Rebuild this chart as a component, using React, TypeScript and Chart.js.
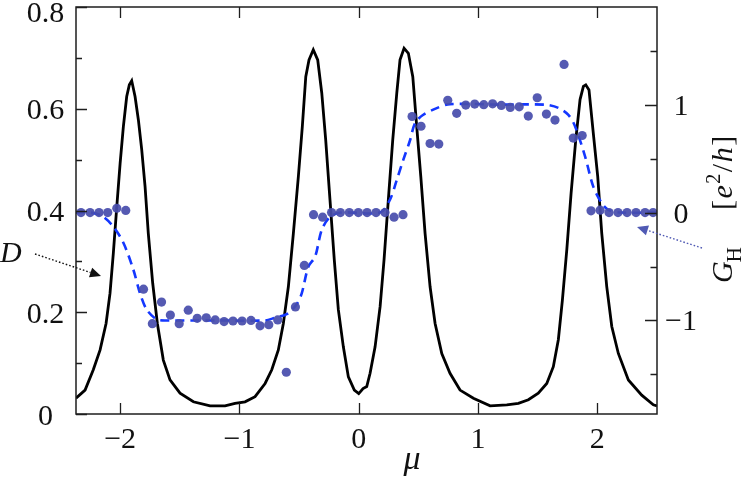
import React, { useEffect, useRef } from "react";
import Chart from "chart.js/auto";

// ---- Data ----
// D (black solid curve), left axis
const D_X = [-2.370,-2.294,-2.225,-2.168,-2.118,-2.085,-2.057,-2.028,-2.000,-1.973,
  -1.945,-1.923,-1.903,-1.875,-1.847,-1.819,-1.791,-1.764,-1.727,-1.688,
  -1.638,-1.582,-1.498,-1.386,-1.246,-1.121,-1.037,-0.953,-0.869,-0.785,
  -0.729,-0.674,-0.632,-0.590,-0.548,-0.506,-0.473,-0.444,-0.417,-0.381,
  -0.344,-0.310,-0.277,-0.241,-0.205,-0.171,-0.129,-0.087,-0.037,0.000,
  0.036,0.067,0.095,0.137,0.179,0.212,0.248,0.285,0.319,0.346,
  0.380,0.416,0.453,0.486,0.520,0.556,0.598,0.640,0.696,0.765,
  0.849,0.961,1.101,1.241,1.338,1.422,1.505,1.576,1.631,1.673,
  1.707,1.744,1.780,1.819,1.855,1.883,1.903,1.930,1.966,2.003,
  2.037,2.079,2.121,2.176,2.260,2.372,2.469,2.500];
const D_Y = [0.031,0.047,0.087,0.126,0.178,0.237,0.316,0.408,0.493,0.565,
  0.624,0.647,0.655,0.624,0.578,0.519,0.447,0.355,0.257,0.178,
  0.106,0.067,0.041,0.024,0.016,0.016,0.021,0.024,0.034,0.060,
  0.087,0.126,0.178,0.250,0.355,0.467,0.565,0.663,0.696,0.716,
  0.696,0.631,0.539,0.421,0.303,0.205,0.132,0.073,0.047,0.040,
  0.050,0.054,0.080,0.132,0.211,0.303,0.421,0.539,0.631,0.696,
  0.719,0.709,0.663,0.565,0.467,0.355,0.250,0.178,0.119,0.080,
  0.047,0.031,0.016,0.018,0.021,0.028,0.041,0.060,0.093,0.146,
  0.224,0.323,0.434,0.539,0.618,0.644,0.647,0.637,0.552,0.467,
  0.355,0.250,0.172,0.119,0.067,0.037,0.018,0.016];

// G_H theory (blue dashed), right axis
const T_X = [-2.37,-2.25,-2.154,-2.057,-1.973,-1.889,-1.833,-1.777,-1.693,-1.6,
  -1.2,-0.785,-0.702,-0.60,-0.52,-0.478,-0.422,-0.366,-0.310,-0.240,
  -0.15,0.179,0.262,0.318,0.374,0.430,0.472,0.541,0.654,0.765,
  1.2,1.562,1.673,1.757,1.813,1.897,1.966,2.037,2.092,2.2,2.5];
const T_Y = [0,0,-0.03,-0.13,-0.28,-0.53,-0.75,-0.90,-0.99,-1.0,
  -1.0,-1.0,-0.975,-0.94,-0.85,-0.75,-0.5,-0.41,-0.16,-0.04,
  0,0,0.12,0.30,0.49,0.67,0.83,0.906,0.968,1.005,
  1.0,1.0,0.97,0.906,0.80,0.52,0.24,0.087,0.025,0,0];

// G_H data points (blue dots), right axis
const G_X = [-2.328,-2.252,-2.177,-2.104,-2.028,-1.953,-1.804,-1.730,-1.653,-1.579,
  -1.505,-1.429,-1.354,-1.278,-1.203,-1.129,-1.054,-0.978,-0.903,-0.827,
  -0.754,-0.679,-0.607,-0.531,-0.456,-0.379,-0.303,-0.228,-0.154,-0.079,
  -0.003,0.070,0.145,0.220,0.296,0.371,0.447,0.522,0.598,0.671,
  0.746,0.821,0.897,0.972,1.048,1.122,1.195,1.270,1.345,1.421,
  1.496,1.573,1.645,1.721,1.798,1.873,1.947,2.023,2.098,2.173,
  2.249,2.324,2.400,2.467];
const G_Y = [0,0,0,0,0.04,0.02,-0.71,-1.03,-0.83,-0.95,
  -1.03,-0.905,-0.98,-0.975,-0.995,-1.01,-1.005,-1.005,-1.0,-1.05,
  -1.04,-0.995,-1.48,-0.875,-0.49,-0.02,-0.043,0,0,0,
  0,0,0,0,-0.043,-0.02,0.89,0.80,0.64,0.635,
  1.04,0.92,0.996,1.005,1.0,1.008,0.993,0.974,0.98,0.894,
  1.064,0.913,0.857,1.373,0.69,0.714,0.016,0.022,0,0,
  0,0,0,0];

// Ticks
const X_TICKS = [-2, -1, 0, 1, 2];
const Y_MAJOR = [0, 0.2, 0.4, 0.6, 0.8];
const Y_MINOR = [0.1, 0.3, 0.5, 0.7];
const Y2_MAJOR = [-1, 0, 1];
const Y2_MINOR = [-1.5, -0.5, 0.5, 1.5];

const SERIF = '"Liberation Serif", "Times New Roman", serif';

const fmt = (v: number) => {
  const s = String(Math.round(v * 10) / 10);
  return s.replace("-", "\u2212");
};

function arrow(ctx: CanvasRenderingContext2D, x0: number, y0: number, x1: number, y1: number, color: string) {
  const dx = x1 - x0, dy = y1 - y0;
  const len = Math.hypot(dx, dy);
  const ux = dx / len, uy = dy / len;
  const hl = 11, hw = 5;
  const bx = x1 - ux * hl, by = y1 - uy * hl;
  ctx.save();
  ctx.strokeStyle = color;
  ctx.fillStyle = color;
  ctx.lineWidth = 1.4;
  ctx.setLineDash([1.6, 2]);
  ctx.beginPath();
  ctx.moveTo(x0, y0);
  ctx.lineTo(bx, by);
  ctx.stroke();
  ctx.setLineDash([]);
  ctx.beginPath();
  ctx.moveTo(x1, y1);
  ctx.lineTo(bx - uy * hw, by + ux * hw);
  ctx.lineTo(bx + uy * hw, by - ux * hw);
  ctx.closePath();
  ctx.fill();
  ctx.restore();
}

const decorPlugin = {
  id: "decor",
  afterDatasetsDraw(chart: any) {
    const { ctx, chartArea: ca, scales } = chart;
    const sx = scales.x, sy = scales.y, sy2 = scales.y2;
    ctx.save();
    ctx.strokeStyle = "#1e1e1e";
    ctx.lineWidth = 1.5;
    ctx.setLineDash([]);
    ctx.strokeRect(ca.left, ca.top, ca.right - ca.left, ca.bottom - ca.top);

    ctx.lineWidth = 1.3;
    ctx.beginPath();
    X_TICKS.forEach((v) => {
      const p = Math.round(sx.getPixelForValue(v)) + 0.5;
      ctx.moveTo(p, ca.bottom); ctx.lineTo(p, ca.bottom - 11);
      ctx.moveTo(p, ca.top); ctx.lineTo(p, ca.top + 11);
    });
    Y_MAJOR.forEach((v) => {
      const p = Math.round(sy.getPixelForValue(v)) + 0.5;
      ctx.moveTo(ca.left, p); ctx.lineTo(ca.left + 11, p);
    });
    Y_MINOR.forEach((v) => {
      const p = Math.round(sy.getPixelForValue(v)) + 0.5;
      ctx.moveTo(ca.left, p); ctx.lineTo(ca.left + 6, p);
    });
    Y2_MAJOR.forEach((v) => {
      const p = Math.round(sy2.getPixelForValue(v)) + 0.5;
      ctx.moveTo(ca.right, p); ctx.lineTo(ca.right - 12, p);
    });
    Y2_MINOR.forEach((v) => {
      const p = Math.round(sy2.getPixelForValue(v)) + 0.5;
      ctx.moveTo(ca.right, p); ctx.lineTo(ca.right - 6.5, p);
    });
    ctx.stroke();

    // tick labels
    ctx.fillStyle = "#111";
    ctx.font = `30px ${SERIF}`;
    ctx.textBaseline = "alphabetic";
    ctx.textAlign = "center";
    X_TICKS.forEach((v) => {
      ctx.fillText(fmt(v), sx.getPixelForValue(v), ca.bottom + 34);
    });
    Y_MAJOR.forEach((v) => {
      const p = sy.getPixelForValue(v);
      ctx.fillText(fmt(v), 45.5, Math.max(p + 10.5, 22));
    });
    Y2_MAJOR.forEach((v) => {
      const p = sy2.getPixelForValue(v);
      ctx.fillText(fmt(v), 681, p + 10);
    });

    // x title
    ctx.font = `italic 34px ${SERIF}`;
    ctx.fillText("\u03bc", 412, 469);

    // D label
    ctx.textAlign = "left";
    ctx.font = `italic 30px ${SERIF}`;
    ctx.fillText("D", 0, 262);

    // right title, rotated
    ctx.save();
    ctx.translate(732, 283);
    ctx.rotate(-Math.PI / 2);
    ctx.textAlign = "left";
    let x = 0;
    ctx.font = `italic 30px ${SERIF}`;
    ctx.fillText("G", x, 0);
    x += ctx.measureText("G").width;
    ctx.font = `21px ${SERIF}`;
    ctx.fillText("H", x - 1, 9);
    x = 73;
    const pieces: [string, string, number][] = [
      ["[", `30px ${SERIF}`, 0],
      ["e", `italic 30px ${SERIF}`, 0],
      ["2", `20px ${SERIF}`, -12],
      ["/", `30px ${SERIF}`, 0],
      ["h", `italic 30px ${SERIF}`, 0],
      ["]", `30px ${SERIF}`, 0],
    ];
    pieces.forEach(([t, f, dy]) => {
      ctx.font = f;
      ctx.fillText(t, x, dy);
      x += ctx.measureText(t).width + 1.5;
    });
    ctx.restore();

    // annotation arrows
    arrow(ctx, 35, 254, 101, 276, "#111");
    arrow(ctx, 702, 248, 637, 227, "rgb(80,90,180)");
    ctx.restore();
  },
};

export default function App() {
  const ref = useRef<HTMLCanvasElement | null>(null);
  useEffect(() => {
    if (!ref.current) return;
    const chart = new Chart(ref.current, {
      type: "line",
      data: {
        datasets: [
          {
            type: "scatter",
            data: G_X.map((x, i) => ({ x, y: G_Y[i] })),
            backgroundColor: "rgba(72,78,172,0.93)",
            borderWidth: 0,
            pointRadius: 4.6,
            yAxisID: "y2",
            order: 1,
          } as any,
          {
            type: "line",
            data: T_X.map((x, i) => ({ x, y: T_Y[i] })),
            borderColor: "rgb(20,55,255)",
            borderWidth: 2.6,
            borderDash: [9, 6],
            pointRadius: 0,
            tension: 0.3,
            yAxisID: "y2",
            order: 2,
          },
          {
            type: "line",
            data: D_X.map((x, i) => ({ x, y: D_Y[i] })),
            borderColor: "#000",
            borderWidth: 2.8,
            pointRadius: 0,
            tension: 0,
            yAxisID: "y",
            order: 3,
          },
        ],
      },
      options: {
        responsive: false,
        animation: false,
        layout: { padding: { left: 76, top: 7, right: 90, bottom: 66 } },
        plugins: { legend: { display: false }, tooltip: { enabled: false } },
        scales: {
          x: { type: "linear", min: -2.37, max: 2.5, display: false },
          y: { type: "linear", min: 0, max: 0.8, display: false },
          y2: { type: "linear", min: -1.867, max: 1.905, display: false, position: "right" },
        },
      },
      plugins: [decorPlugin],
    });
    return () => chart.destroy();
  }, []);
  return (
    <div style={{ position: "fixed", left: 0, top: 0, width: 747, height: 480, background: "#fff" }}>
      <canvas ref={ref} width={747} height={480} style={{ display: "block" }} />
    </div>
  );
}
